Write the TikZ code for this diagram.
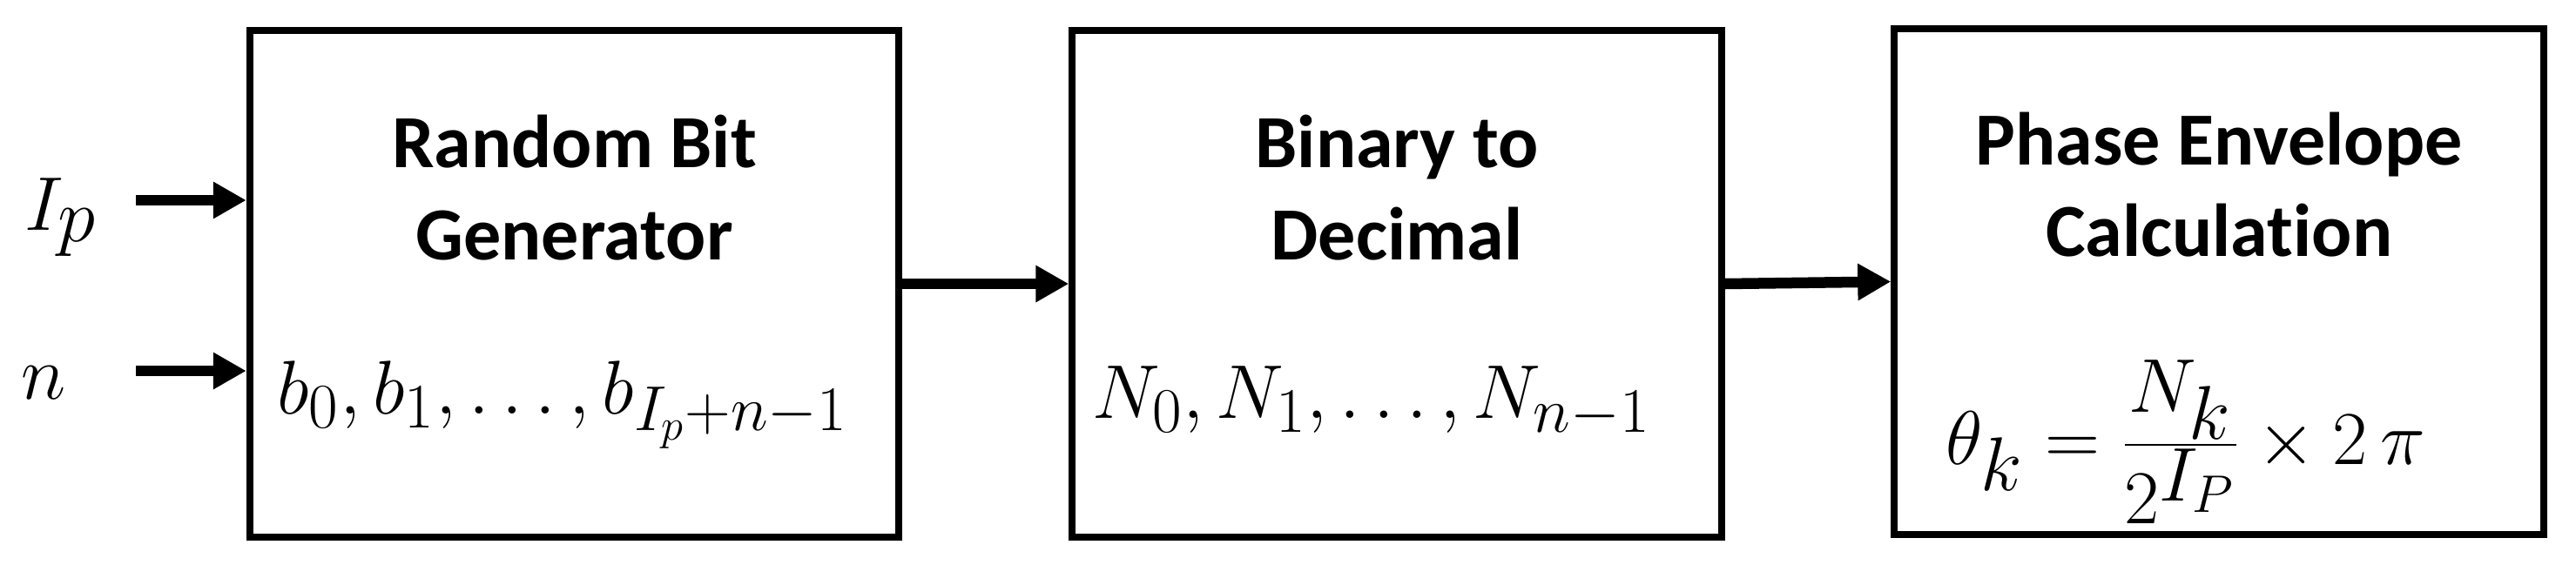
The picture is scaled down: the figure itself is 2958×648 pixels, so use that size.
\documentclass[tikz,border=0pt]{standalone}
\usepackage{fontspec}
\newfontfamily\titlefont{Carlito}[Ligatures={NoCommon,NoRare,NoDiscretionary}]
\usetikzlibrary{arrows.meta}
\tikzset{
  block/.style={draw, line width=0.08cm, minimum width=7.45cm, minimum height=5.81cm, inner sep=0pt},
  arr/.style={line width=0.125cm, -{Triangle[length=0.38cm,width=0.40cm]}},
  title/.style={font=\titlefont\bfseries\fontsize{24.5}{29}\selectfont, anchor=base, inner sep=0pt},
  mathlbl/.style={font=\fontsize{30}{36}\selectfont, anchor=base, inner sep=0pt},
  inlbl/.style={font=\fontsize{37}{42}\selectfont, anchor=base west, inner sep=0pt},
  fraclbl/.style={font=\fontsize{33}{40}\selectfont, anchor=base, inner sep=0pt}
}
\begin{document}
\begin{tikzpicture}[x=0.01cm,y=-0.01cm]
\useasboundingbox (0,0) rectangle (2958,648);
\node[block] (b1) at (659.5,326) {};
\node[block] (b2) at (1604,326) {};
\node[block] (b3) at (2548,323.5) {};
\node[title] (t1a) at (659.5,192) {Random Bit};
\node[title] (t1b) at (659.5,298) {Generator};
\node[title] (t2a) at (1604,192) {Binary to};
\node[title] (t2b) at (1604,298) {Decimal};
\node[title] (t3a) at (2548,189) {Phase Envelope};
\node[title] (t3b) at (2548,294) {Calculation};
\node[mathlbl] (m1) at (646,475) {$b_0, b_1, \dots, b_{I_p+n-1}$};
\node[mathlbl] (m2) at (1575,480) {$N_0, N_1, \dots, N_{n-1}$};
\node[fraclbl] (m3) at (2510,533) {$\displaystyle\theta_k = \frac{N_k}{2^{I_P}} \times 2\,\pi$};
\node[inlbl] (ip) at (28,264) {$I_p$};
\node[inlbl, font=\fontsize{44}{48}\selectfont] (nn) at (24,458) {$n$};
\coordinate (ipstart) at (156,230);
\coordinate (nstart) at (156,426);
\draw[arr] (ipstart) -- (ipstart -| b1.west);
\draw[arr] (nstart) -- (nstart -| b1.west);
\draw[arr] (b1.east) -- (b2.west);
\draw[arr] (b2.east) -- (b3.west);
\end{tikzpicture}
\end{document}
